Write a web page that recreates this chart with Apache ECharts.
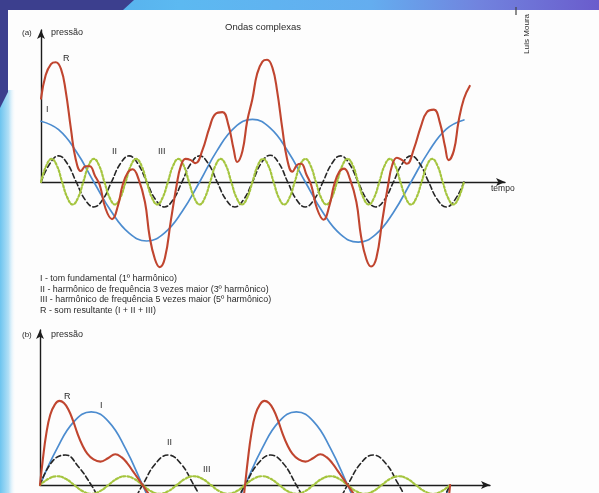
<!DOCTYPE html>
<html>
<head>
<meta charset="utf-8">
<script src="https://cdn.jsdelivr.net/npm/echarts@6/dist/echarts.min.js"></script>
<style>
  html, body { margin: 0; padding: 0; background: #ffffff; }
  #chart { width: 599px; height: 493px; }
</style>
</head>
<body>
<div id="chart"></div>
<script>
// ---------- (a) Ondas complexas: phase of the fundamental in degrees, pressure in amplitude units ----------
const toneIStepA = 30;
const toneIA = [1.00, 0.86, 0.50, 0.00, -0.49, -0.84, -0.97, -0.84, -0.49, 0.00, 0.52, 0.90,
                1.03, 0.89, 0.51, 0.00, -0.50, -0.86, -0.99, -0.86, -0.50, 0.00, 0.50, 0.87, 1.02];

const harmIIStepA = 15;
const harmIIA = [0, 0.30, 0.43, 0.30, 0, -0.29, -0.41, -0.29,
                 0, 0.30, 0.43, 0.30, 0, -0.29, -0.41, -0.29,
                 0, 0.30, 0.43, 0.30, 0, -0.29, -0.41, -0.29,
                 0, 0.31, 0.44, 0.31, 0, -0.29, -0.41, -0.29,
                 0, 0.30, 0.43, 0.30, 0, -0.29, -0.41, -0.29,
                 0, 0.30, 0.43, 0.30, 0, -0.29, -0.41, -0.29,
                 0];

const harmIIIStepA = 9;
const harmIIIA = [0, 0.27, 0.38, 0.27, 0, -0.26, -0.37, -0.26,
                  0, 0.27, 0.38, 0.27, 0, -0.26, -0.37, -0.26,
                  0, 0.27, 0.38, 0.27, 0, -0.26, -0.37, -0.26,
                  0, 0.27, 0.38, 0.27, 0, -0.26, -0.37, -0.26,
                  0, 0.27, 0.38, 0.27, 0, -0.26, -0.37, -0.26,
                  0, 0.27, 0.38, 0.27, 0, -0.26, -0.37, -0.26,
                  0, 0.27, 0.38, 0.27, 0, -0.26, -0.37, -0.26,
                  0, 0.27, 0.38, 0.27, 0, -0.26, -0.37, -0.26,
                  0, 0.27, 0.38, 0.27, 0, -0.26, -0.37, -0.26,
                  0, 0.27, 0.38, 0.27, 0, -0.26, -0.37, -0.26,
                  0];

// resulting sound R = I + II + III, as drawn
const resultA = [
  [0, 1.37], [8, 1.76], [17, 1.94], [25, 1.97], [34, 1.86], [42, 1.50], [51, 0.87], [59, 0.38],
  [68, 0.18], [76, 0.26], [83, 0.26], [92, 0.10], [100, -0.05], [110, -0.44], [121, -0.61],
  [131, -0.39], [139, -0.05], [148, 0.16], [156, 0.21], [166, 0.05], [177, -0.33], [185, -0.90],
  [194, -1.27], [202, -1.40], [211, -1.25], [221, -0.64], [231, -0.05], [238, 0.26], [246, 0.38],
  [255, 0.36], [263, 0.31], [275, 0.53], [287, 0.90], [297, 1.12], [309, 1.15], [319, 0.94],
  [328, 0.54], [334, 0.33], [343, 0.51], [351, 1.00],
  [360, 1.37], [368, 1.78], [377, 1.98], [385, 2.01], [394, 1.88], [402, 1.50], [411, 0.87], [419, 0.38],
  [428, 0.17], [436, 0.28], [443, 0.30], [452, 0.12], [460, -0.05], [470, -0.44], [481, -0.62],
  [491, -0.39], [499, -0.05], [508, 0.17], [516, 0.22], [526, 0.05], [537, -0.33], [545, -0.90],
  [554, -1.27], [562, -1.39], [571, -1.25], [581, -0.64], [591, -0.05], [598, 0.28], [606, 0.40],
  [615, 0.36], [623, 0.30], [635, 0.55], [647, 0.92], [657, 1.15], [669, 1.19], [679, 0.98],
  [688, 0.58], [694, 0.36], [703, 0.52], [711, 1.00], [720, 1.37], [730, 1.58]
];

// ---------- (b) second wave family ----------
const toneIStepB = 30;
const toneIB = [0, 0.50, 0.87, 1.00, 0.87, 0.50, 0, -0.50, -0.87, -1.00, -0.87, -0.50,
                0, 0.50, 0.87, 1.00, 0.87, 0.50, 0, -0.50, -0.87, -1.00, -0.87, -0.50, 0];

const harmIIStepB = 22.5;
const harmIIB = [0, 0.33, 0.41, 0.25, 0, -0.29, -0.41, -0.29,
                 0, 0.29, 0.41, 0.29, 0, -0.29, -0.41, -0.29,
                 0, 0.29, 0.41, 0.29, 0, -0.29, -0.41, -0.29,
                 0, 0.29, 0.41, 0.29, 0, -0.29, -0.41, -0.29,
                 0];

const harmIIIStepB = 15;
const harmIIIB = [0, 0.085, 0.12, 0.085, 0, -0.085, -0.12, -0.085,
                  0, 0.085, 0.12, 0.085, 0, -0.085, -0.12, -0.085,
                  0, 0.085, 0.12, 0.085, 0, -0.085, -0.12, -0.085,
                  0, 0.085, 0.12, 0.085, 0, -0.085, -0.12, -0.085,
                  0, 0.085, 0.12, 0.085, 0, -0.085, -0.12, -0.085,
                  0, 0.085, 0.12, 0.085, 0, -0.085, -0.12, -0.085,
                  0];

const resultB = [
  [0, 0], [5, 0.35], [11, 0.70], [18, 0.96], [26, 1.10], [34, 1.15], [42, 1.12], [50, 1.03],
  [58, 0.88], [66, 0.70], [74, 0.55], [83, 0.43], [94, 0.35], [106, 0.32], [120, 0.37],
  [132, 0.42], [143, 0.38], [153, 0.30], [163, 0.19], [172, 0.09], [180, 0],
  [188, -0.09], [197, -0.19], [207, -0.30], [217, -0.38], [228, -0.42], [240, -0.37], [254, -0.32],
  [266, -0.35], [277, -0.43], [286, -0.55], [294, -0.70], [302, -0.88], [310, -1.03], [318, -1.12],
  [326, -1.15], [334, -1.10], [342, -0.96], [349, -0.70], [355, -0.35],
  [360, 0], [365, 0.35], [371, 0.70], [378, 0.96], [386, 1.10], [394, 1.15], [402, 1.12], [410, 1.03],
  [418, 0.88], [426, 0.70], [434, 0.55], [443, 0.43], [454, 0.35], [466, 0.32], [480, 0.37],
  [492, 0.42], [503, 0.38], [513, 0.30], [523, 0.19], [532, 0.09], [540, 0],
  [548, -0.09], [557, -0.19], [567, -0.30], [577, -0.38], [588, -0.42], [600, -0.37], [614, -0.32],
  [626, -0.35], [637, -0.43], [646, -0.55], [654, -0.70], [662, -0.88], [670, -1.03], [678, -1.12],
  [686, -1.15], [694, -1.10], [702, -0.96], [709, -0.70], [715, -0.35], [720, 0]
];

// legend lines under panel (a)
const legendLines = [
  'I - tom fundamental (1º harmônico)',
  'II - harmônico de frequência 3 vezes maior (3º harmônico)',
  'III - harmônico de frequência 5 vezes maior (5º harmônico)',
  'R - som resultante (I + II + III)'
];

// ---------- drawing ----------
const FONT = '"Liberation Sans", Arial, Helvetica, sans-serif';
const INK = '#2a2a2a';
const RED = '#c0452f';
const BLUE = '#4c8ccf';
const DASH = '#262626';
const GREEN = '#a5c53f';

const sampled = (values, step) => values.map((v, i) => [i * step, v]);

function wave(gridIdx, data, color, width, type, z) {
  return {
    type: 'line', xAxisIndex: gridIdx, yAxisIndex: gridIdx, data: data,
    smooth: 0.45, showSymbol: false, symbol: 'none', clip: false, z: z, silent: true,
    lineStyle: { color: color, width: width, type: type, cap: 'round' }
  };
}

const axisCommon = {
  type: 'value',
  axisTick: { show: false }, axisLabel: { show: false }, splitLine: { show: false },
  axisLine: { show: true, symbol: ['none', 'arrow'], symbolSize: [6, 9],
              lineStyle: { color: '#1c1c1c', width: 1.4 } }
};

function txt(x, y, s, size, extra) {
  return Object.assign({
    type: 'text', x: x, y: y, z: 100,
    style: { text: s, fill: INK, font: size + 'px ' + FONT, textVerticalAlign: 'middle' }
  }, extra || {});
}

const chart = echarts.init(document.getElementById('chart'), null, { renderer: 'canvas' });

const graphics = [
  // page frame: blue band across the top, navy corner, pale blue left edge
  { type: 'rect', z: -10, shape: { x: 0, y: 90, width: 16, height: 403 },
    style: { fill: new echarts.graphic.LinearGradient(0, 0, 1, 0, [
      { offset: 0, color: '#6cc4ef' }, { offset: 0.55, color: '#b4e0f6' }, { offset: 1, color: 'rgba(255,255,255,0)' }]) } },
  { type: 'rect', z: -10, shape: { x: 0, y: 0, width: 599, height: 10 },
    style: { fill: new echarts.graphic.LinearGradient(0, 0, 1, 0, [
      { offset: 0, color: '#4fa6e6' }, { offset: 0.3, color: '#5cb9f1' }, { offset: 0.62, color: '#64adef' },
      { offset: 0.8, color: '#7183de' }, { offset: 1, color: '#6a5ccc' }]) } },
  { type: 'polygon', z: -9, shape: { points: [[0, 0], [134, 0], [123, 10], [8, 10], [8, 92], [0, 108]] },
    style: { fill: '#3c3f8e' } },
  { type: 'line', z: 10, shape: { x1: 516, y1: 7, x2: 516, y2: 15 }, style: { stroke: '#444', lineWidth: 1.2 } },

  // panel (a) texts
  txt(22, 33, '(a)', 8),
  txt(51, 33, 'pressão', 9),
  txt(225, 27, 'Ondas complexas', 9.5),
  txt(527, 34, 'Luís Moura', 8, { rotation: Math.PI / 2, style: { text: 'Luís Moura', fill: INK, font: '8px ' + FONT, textAlign: 'center', textVerticalAlign: 'middle' } }),
  txt(63, 59, 'R', 9),
  txt(46, 110, 'I', 9),
  txt(112, 152, 'II', 9),
  txt(158, 152, 'III', 9),
  txt(491, 189, 'tempo', 8.5),

  // panel (b) texts
  txt(22, 335, '(b)', 8),
  txt(51, 335, 'pressão', 9),
  txt(64, 397, 'R', 9),
  txt(100, 406, 'I', 9),
  txt(167, 443, 'II', 9),
  txt(203, 470, 'III', 9),
  txt(487, 498, 'tempo', 8.5)
];

legendLines.forEach((line, i) => {
  graphics.push(txt(40, 279 + i * 10.4, line, 8.9));
});

chart.setOption({
  backgroundColor: '#fdfdfd',
  animation: false,
  grid: [
    { left: 41, top: 30, width: 464, height: 152 },
    { left: 40, top: 330, width: 450, height: 155 }
  ],
  xAxis: [
    Object.assign({}, axisCommon, { gridIndex: 0, min: 0, max: 790 }),
    Object.assign({}, axisCommon, { gridIndex: 1, min: 0, max: 790 })
  ],
  yAxis: [
    Object.assign({}, axisCommon, { gridIndex: 0, min: 0, max: 2.5 }),
    Object.assign({}, axisCommon, { gridIndex: 1, min: 0, max: 2.12 })
  ],
  graphic: { elements: graphics },
  series: [
    wave(0, sampled(toneIA, toneIStepA), BLUE, 1.7, 'solid', 3),
    wave(0, sampled(harmIIA, harmIIStepA), DASH, 1.6, [5, 3], 4),
    wave(0, sampled(harmIIIA, harmIIIStepA), GREEN, 2.2, [2, 2], 5),
    wave(0, resultA, RED, 2.1, 'solid', 6),

    wave(1, sampled(toneIB, toneIStepB), BLUE, 1.7, 'solid', 3),
    wave(1, sampled(harmIIB, harmIIStepB), DASH, 1.6, [5, 3], 4),
    wave(1, sampled(harmIIIB, harmIIIStepB), GREEN, 2.2, [2, 2], 5),
    wave(1, resultB, RED, 2.1, 'solid', 6)
  ]
});
</script>
</body>
</html>
